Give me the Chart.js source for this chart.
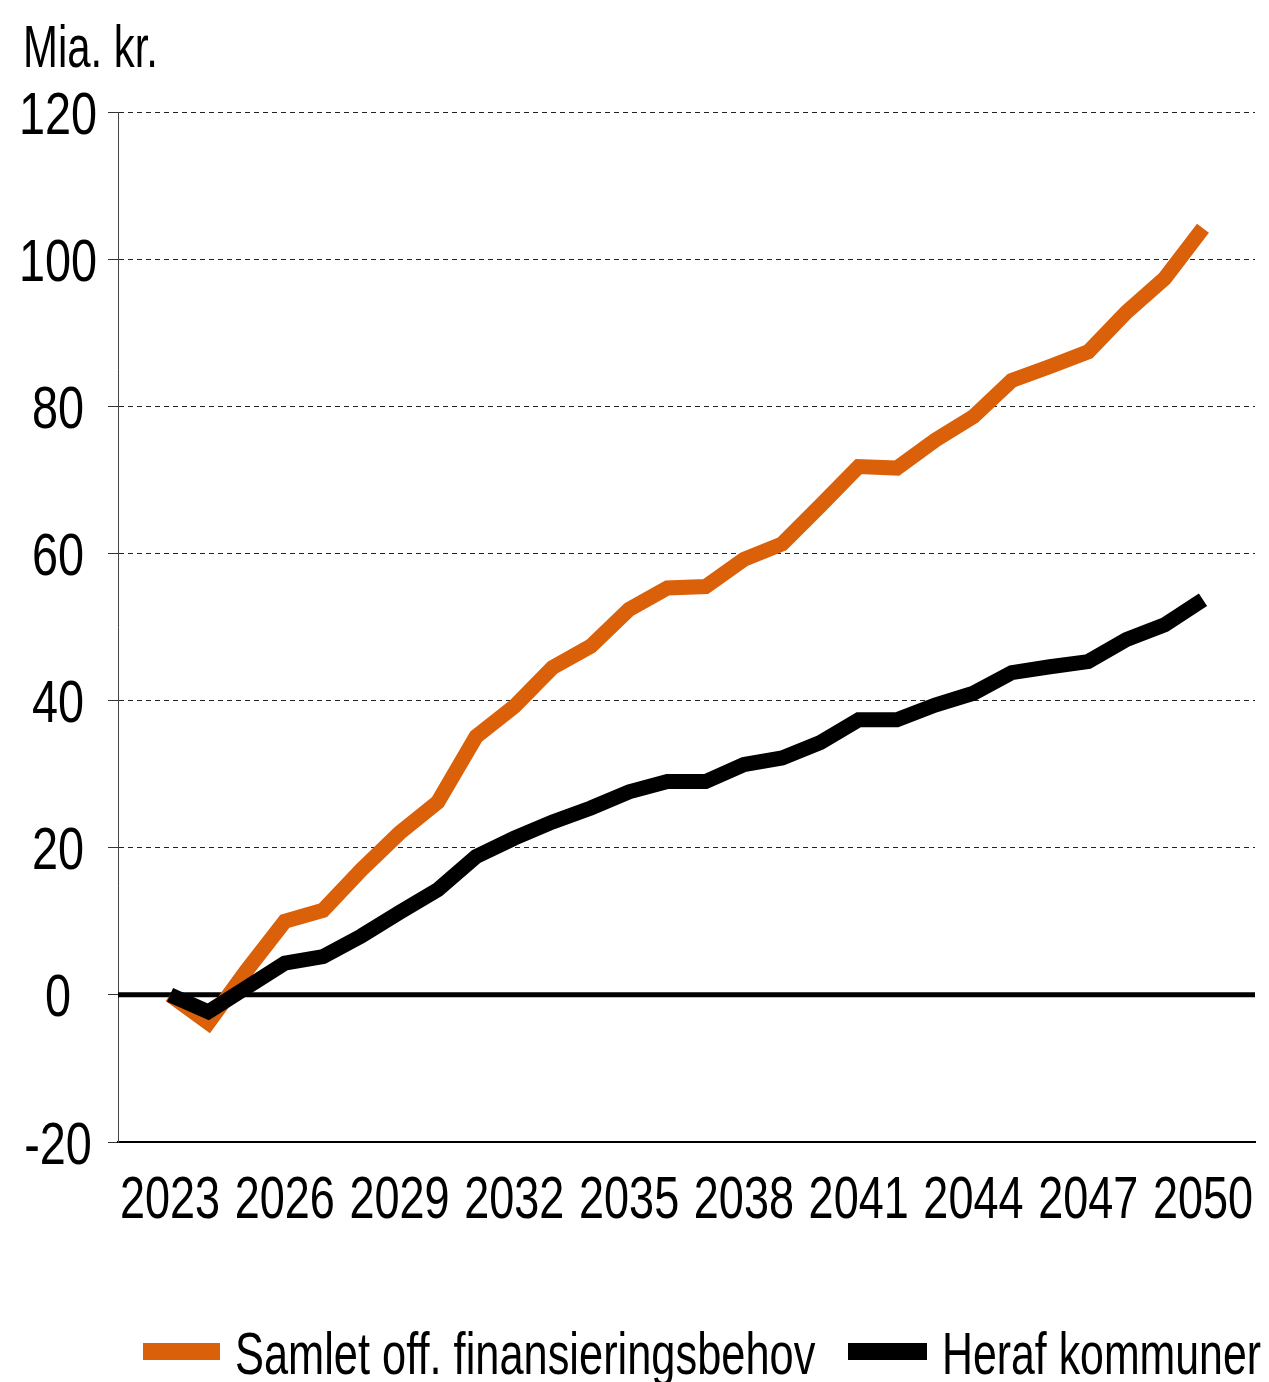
<!DOCTYPE html>
<html>
<head>
<meta charset="utf-8">
<script src="https://cdn.jsdelivr.net/npm/chart.js@4.4.0/dist/chart.umd.min.js"></script>
<style>
  body { margin: 0; background: #fff; }
  #wrap { position: relative; width: 1269px; height: 1382px; }
  .txt { position: absolute; font-family: 'Liberation Sans', Arial, sans-serif; font-size: 60px; line-height: 60px;
         color: #000; white-space: nowrap; transform-origin: 0 0; }
  .sw { position: absolute; height: 17px; top: 1343px; }
</style>
</head>
<body>
<div id="wrap">
  <canvas id="chart" width="1269" height="1382"></canvas>
  <div class="txt" style="left:23px; top:17px;" data-w="135">Mia. kr.</div>
  <span class="sw" style="left:143px; width:77px; background:#DA600A"></span>
  <div class="txt" style="left:235px; top:1324px;" data-w="580">Samlet off. finansieringsbehov</div>
  <span class="sw" style="left:848px; width:79px; background:#000"></span>
  <div class="txt" style="left:942px; top:1324px;" data-w="319">Heraf kommuner</div>
</div>
<script>
const years = [2023, 2024, 2025, 2026, 2027, 2028, 2029, 2030, 2031, 2032, 2033, 2034, 2035, 2036,
  2037, 2038, 2039, 2040, 2041, 2042, 2043, 2044, 2045, 2046, 2047, 2048, 2049, 2050];
const samlet = [0, -3.8, 3.3, 10, 11.5, 17, 22, 26.2, 35.1, 39.2, 44.5, 47.4, 52.4, 55.3,
  55.5, 59.2, 61.3, 66.5, 71.8, 71.6, 75.4, 78.6, 83.5, 85.4, 87.4, 92.8, 97.4, 104.2];
const kommuner = [0, -2.3, 1, 4.3, 5.2, 8.0, 11.2, 14.3, 18.8, 21.3, 23.5, 25.4, 27.6, 29.0,
  29.0, 31.3, 32.2, 34.3, 37.4, 37.4, 39.4, 41.0, 43.8, 44.6, 45.3, 48.3, 50.3, 53.7];
const xTicks = [2023, 2026, 2029, 2032, 2035, 2038, 2041, 2044, 2047, 2050];
const yTicks = [-20, 0, 20, 40, 60, 80, 100, 120];

const FONT = "'Liberation Sans', Arial, sans-serif";

// squeeze the html texts to the narrow look of the original
document.querySelectorAll('.txt').forEach(el => {
  const w = el.getBoundingClientRect().width;
  el.style.transform = `scaleX(${(+el.dataset.w / w).toFixed(3)})`;
});

const zeroLine = {
  id: 'zeroLine',
  beforeDatasetsDraw(chart) {
    const y = chart.scales.y.getPixelForValue(0);
    const { left, right } = chart.chartArea;
    const c = chart.ctx;
    c.save();
    c.strokeStyle = '#000';
    c.lineWidth = 5;
    c.beginPath();
    c.moveTo(left, y);
    c.lineTo(right, y);
    c.stroke();
    c.restore();
  }
};

// tick labels in a condensed look (canvas has no narrow font here)
function narrowText(c, text, x, y, k) {
  c.save();
  c.translate(x, y);
  c.scale(k, 1);
  c.fillText(text, 0, 0);
  c.restore();
}

const tickLabels = {
  id: 'tickLabels',
  afterDraw(chart) {
    const c = chart.ctx;
    const { x: sx, y: sy } = chart.scales;
    const area = chart.chartArea;
    c.save();
    c.fillStyle = '#000';
    c.font = `60px ${FONT}`;
    c.textAlign = 'center';
    c.textBaseline = 'alphabetic';
    sx.ticks.forEach(t => narrowText(c, String(t.value), sx.getPixelForValue(t.value), area.bottom + 76, 0.75));
    sy.ticks.forEach(t => narrowText(c, String(t.value), area.left - 60, sy.getPixelForValue(t.value) + 21.5, 0.78));
    c.restore();
  }
};

const ctx = document.getElementById('chart').getContext('2d');
new Chart(ctx, {
  type: 'line',
  data: {
    datasets: [
      {
        label: 'Samlet off. finansieringsbehov',
        data: years.map((y, i) => ({ x: y, y: samlet[i] })),
        borderColor: '#DA600A',
        borderWidth: 15,
        pointRadius: 0,
        tension: 0,
        borderJoinStyle: 'miter',
        order: 1,
      },
      {
        label: 'Heraf kommuner',
        data: years.map((y, i) => ({ x: y, y: kommuner[i] })),
        borderColor: '#000',
        borderWidth: 15,
        pointRadius: 0,
        tension: 0,
        borderJoinStyle: 'miter',
        order: 0,
      },
    ],
  },
  options: {
    responsive: false,
    animation: false,
    layout: { padding: { left: 0, top: 112, right: 14, bottom: 140 } },
    plugins: { legend: { display: false }, tooltip: { enabled: false } },
    scales: {
      x: {
        type: 'linear',
        min: 2021.64,
        max: 2051.36,
        afterBuildTicks: (axis) => { axis.ticks = xTicks.map(v => ({ value: v })); },
        afterFit: (axis) => { axis.height = 100; },
        grid: { display: false, drawTicks: false },
        border: { display: true, color: '#000', width: 2 },
        ticks: { display: false },
      },
      y: {
        min: -20,
        max: 120,
        afterBuildTicks: (axis) => { axis.ticks = yTicks.map(v => ({ value: v })); },
        afterFit: (axis) => { axis.width = 118; },
        grid: {
          color: (c) => (c.tick && (c.tick.value === 0 || c.tick.value === -20)) ? 'rgba(0,0,0,0)' : '#222',
          lineWidth: 1,
          tickLength: 10,
          tickColor: '#333',
          tickBorderDash: [],
        },
        border: { display: true, color: '#444', width: 1, dash: [5, 4] },
        ticks: { display: false },
      },
    },
  },
  plugins: [zeroLine, tickLabels],
});
</script>
</body>
</html>
